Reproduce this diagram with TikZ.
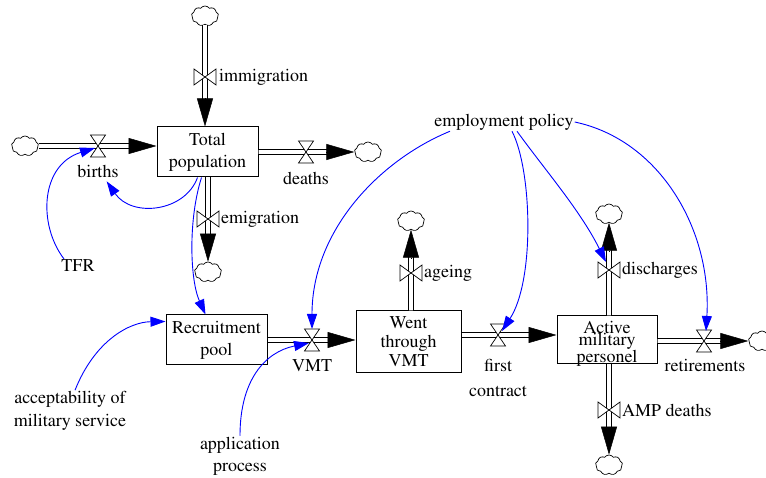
\documentclass[tikz,border=0pt]{standalone}
\usepackage[T1]{fontenc}
\usepackage{times}
\usetikzlibrary{arrows.meta,calc,shapes.symbols}
\begin{document}
\begin{tikzpicture}[x=1pt,y=-1pt,
  font=\rmfamily\fontsize{18}{22}\selectfont,
  stock/.style={draw=black, line width=1pt, fill=white, align=center, inner sep=0pt, minimum width=101pt, minimum height=50pt},
  pipe/.style={draw=black, line width=1pt, double=white, double distance=3.6pt},
  pipetip/.style={-{Triangle[length=28pt,width=16pt]}, line width=0.5pt},
  cloudy/.style={cloud, cloud puffs=9, cloud puff arc=110, draw, fill=white, line width=0.7pt, minimum width=27pt, minimum height=20pt, inner sep=0pt, aspect=1.3},
  link/.style={blue, line width=0.9pt, -{Triangle[length=15pt,width=10pt]}},
  lbl/.style={align=center, inner sep=1pt},
  hvalve/.pic={\draw[fill=white, line width=0.7pt] (-7.5,-11) -- (7.5,-11) -- (-7.5,11) -- (7.5,11) -- cycle;},
  vvalve/.pic={\draw[fill=white, line width=0.7pt] (-11,-8) -- (-11,8) -- (11,-8) -- (11,8) -- cycle;}
]
\useasboundingbox (0,0) rectangle (766,478);

% stocks
\node[stock] (TP) at (207.5,152) {Total\\population};
\node[stock] (RP) at (216.5,340) {Recruitment\\pool};
\node[stock, minimum width=105pt, minimum height=62pt, font=\rmfamily\fontsize{18}{19}\selectfont] (WT) at (408.5,342) {Went\\through\\VMT};
\node[stock, minimum width=100pt, minimum height=48pt] (AM) at (607,340) {};
\node[lbl, inner sep=0pt, font=\rmfamily\fontsize{18}{12.5}\selectfont] (AMtext) at ([yshift=-4pt]AM.center) {Active\\military\\personel};

% clouds
\node[cloudy] (cImm) at (205,16) {};
\node[cloudy] (cB) at (25,146) {};
\node[cloudy] (cD) at (368,152) {};
\node[cloudy] (cE) at (208,272) {};
\node[cloudy] (cA) at (411,221) {};
\node[cloudy] (cDis) at (609,214) {};
\node[cloudy] (cRet) at (762,341) {};
\node[cloudy] (cAMP) at (609,465) {};

% valve positions
\coordinate (vImm) at (205,77);
\coordinate (vB) at (98,146);
\coordinate (vD) at (306,152);
\coordinate (vE) at (208,219);
\coordinate (vVMT) at (312,340);
\coordinate (vA) at (411,273);
\coordinate (vFC) at (498,335);
\coordinate (vDis) at (609,270);
\coordinate (vRet) at (704,341);
\coordinate (vAMP) at (609,410);

% pipes
\draw[pipe, shorten >=20pt] (cImm.south) -- (cImm.south |- TP.north);
\draw[pipetip] ($(cImm.south |- TP.north)!28pt!(cImm.south)$) -- (cImm.south |- TP.north);

\draw[pipe, shorten >=20pt] (cB.east) -- (cB.east -| TP.west);
\draw[pipetip] ($(cB.east -| TP.west)!28pt!(cB.east)$) -- (cB.east -| TP.west);

\draw[pipe, shorten >=20pt] (TP.east) -- (cD.west);
\draw[pipetip] ($(cD.west)!28pt!(TP.east)$) -- (cD.west);

\draw[pipe, shorten >=20pt] (TP.south -| vE) -- (vE |- cE.north);
\draw[pipetip] ($(vE |- cE.north)!28pt!(TP.south -| vE)$) -- (vE |- cE.north);

\draw[pipe, shorten >=20pt] (RP.east) -- (RP.east -| WT.west);
\draw[pipetip] ($(RP.east -| WT.west)!28pt!(RP.east)$) -- (RP.east -| WT.west);

\draw[pipe, shorten >=20pt] (WT.north -| cA) -- (cA.south);
\draw[pipetip] ($(cA.south)!28pt!(WT.north -| cA)$) -- (cA.south);

\draw[pipe, shorten >=20pt] (vFC -| WT.east) -- (vFC -| AM.west);
\draw[pipetip] ($(vFC -| AM.west)!28pt!(vFC -| WT.east)$) -- (vFC -| AM.west);

\draw[pipe, shorten >=20pt] (AM.north -| cDis) -- (cDis.south);
\draw[pipetip] ($(cDis.south)!28pt!(AM.north -| cDis)$) -- (cDis.south);

\draw[pipe, shorten >=20pt] (vRet -| AM.east) -- (cRet.west);
\draw[pipetip] ($(cRet.west)!28pt!(vRet -| AM.east)$) -- (cRet.west);

\draw[pipe, shorten >=20pt] (AM.south -| cAMP) -- (cAMP.north);
\draw[pipetip] ($(cAMP.north)!28pt!(AM.south -| cAMP)$) -- (cAMP.north);

% valves
\pic at (vImm) {vvalve};
\pic at (vB) {hvalve};
\pic at (vD) {hvalve};
\pic at (vE) {vvalve};
\pic at (vVMT) {hvalve};
\pic at (vA) {vvalve};
\pic at (vFC) {hvalve};
\pic at (vDis) {vvalve};
\pic at (vRet) {hvalve};
\pic at (vAMP) {vvalve};

% flow labels
\node[lbl, anchor=west] (lImm) at (218,77) {immigration};
\node[lbl] (lB) at (98,171) {births};
\node[lbl] (lD) at (306,178) {deaths};
\node[lbl, anchor=west] (lE) at (220,219) {emigration};
\node[lbl] (lVMT) at (312,366) {VMT};
\node[lbl, anchor=west] (lA) at (423,273) {ageing};
\node[lbl, font=\rmfamily\fontsize{18}{25}\selectfont] (lFC) at (498,378) {first\\contract};
\node[lbl, anchor=west] (lDis) at (621,270) {discharges};
\node[lbl] (lRet) at (705,365) {retirements};
\node[lbl, anchor=west] (lAMP) at (621,410) {AMP deaths};

% auxiliaries
\node[lbl] (TFR) at (78,266) {TFR};
\node[lbl, font=\rmfamily\fontsize{18}{23}\selectfont] (ACC) at (70,411) {acceptability of\\military service};
\node[lbl] (APP) at (240,456) {application\\process};
\node[lbl] (EP) at (504,122) {employment policy};

% links
\draw[link] ([xshift=-14pt]TFR.north) .. controls (38,225) and (40,165) .. ([xshift=-3pt,yshift=-2pt]vB);
\draw[link] ([xshift=-10pt]TP.south) .. controls (185,212) and (132,218) .. ([xshift=-13pt,yshift=-3pt]lB.south east);
\draw[link] ([xshift=-6pt]TP.south) .. controls (188,220) and (190,280) .. ([xshift=-11pt]RP.north);
\draw[link] ([xshift=5pt]ACC.north) .. controls (95,340) and (130,322) .. ([yshift=-7pt]RP.north west);
\draw[link] (APP.north) .. controls (240,380) and (265,352) .. ([xshift=-3pt,yshift=-3pt]vVMT);
\draw[link] ([xshift=-54pt]EP.south) .. controls (380,160) and (312,230) .. ([yshift=11pt]vVMT);
\draw[link] ([xshift=8pt]EP.south) .. controls (532,170) and (535,280) .. ([xshift=4pt,yshift=4pt]vFC);
\draw[link] ([xshift=13pt]EP.south) .. controls (545,170) and (580,210) .. ([xshift=-3pt,yshift=8pt]vDis);
\draw[link] (EP.east) .. controls (660,140) and (712,230) .. ([xshift=2pt,yshift=10pt]vRet);
\end{tikzpicture}
\end{document}
